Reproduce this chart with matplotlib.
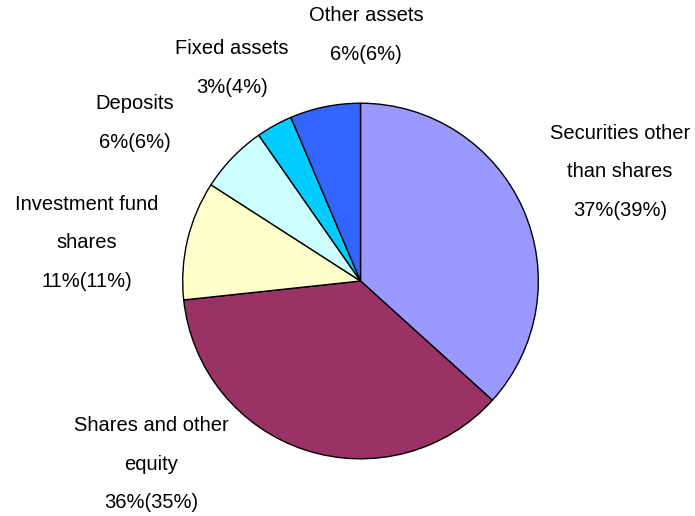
import matplotlib.pyplot as plt

# slice sizes (share of total, %)
names = ["Securities other\nthan shares", "Shares and other\nequity",
         "Investment fund\nshares", "Deposits", "Fixed assets", "Other assets"]
sizes = [36.7, 36.6, 10.8, 6.2, 3.3, 6.4]
pct_now = [37, 36, 11, 6, 3, 6]
pct_prev = [39, 35, 11, 6, 4, 6]
colors = ["#9999FF", "#993366", "#FFFFCC", "#CCFFFF", "#00CCFF", "#3366FF"]

# label centres in pixels (x, y from top)
label_pos = [(620, 172), (151, 464), (87, 243), (135, 123), (232, 68), (366, 35)]


def main():
    W, H = 695, 516
    fig = plt.figure(figsize=(W / 100, H / 100), dpi=100)
    plt.rcParams['font.family'] = ['Liberation Sans', 'DejaVu Sans']

    cx, cy, r = 360.5, 281, 177.8
    ax = fig.add_axes([(cx - r) / W, (H - cy - r) / H, 2 * r / W, 2 * r / H])
    ax.pie(sizes, colors=colors, startangle=90, counterclock=False,
           wedgeprops=dict(edgecolor="black", linewidth=1.0))
    ax.set_xlim(-1, 1)
    ax.set_ylim(-1, 1)
    ax.axis("off")

    for i in range(len(names)):
        txt = names[i] + "\n" + f"{pct_now[i]}%({pct_prev[i]}%)"
        x, y = label_pos[i]
        fig.text(x / W, 1 - y / H, txt, ha="center", va="center",
                 multialignment="center", fontsize=14.5, linespacing=2.3)

    fig.savefig("out.png", dpi=100)


if __name__ == "__main__":
    main()
